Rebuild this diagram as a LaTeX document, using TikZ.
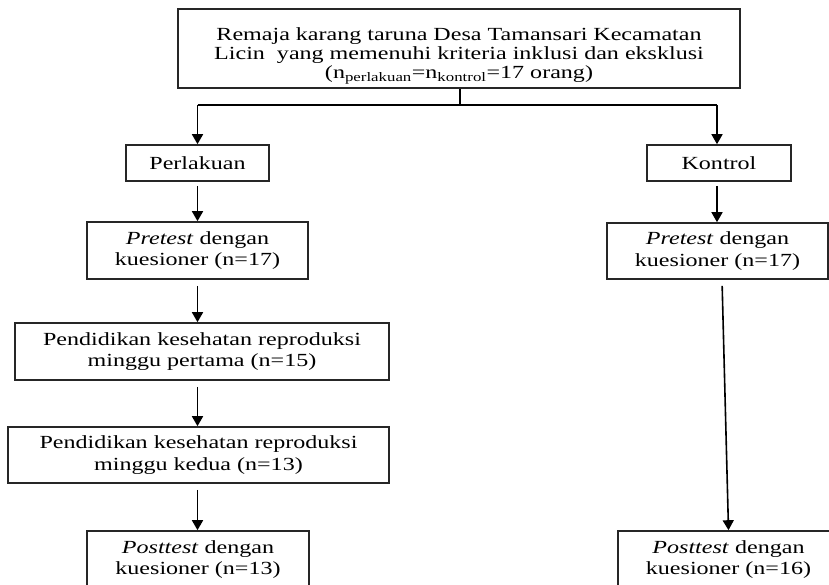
\documentclass[tikz,border=0pt]{standalone}
\usepackage{fontspec}
\setmainfont{Liberation Serif}[FakeStretch=1.3]
\usetikzlibrary{arrows.meta}
\begin{document}
\begin{tikzpicture}[x=1pt,y=-1pt,
  box/.style={draw=black!85, line width=1.6pt, inner sep=0pt, align=center,
    font=\fontsize{18.5}{21.5}\selectfont, text=black},
  conn/.style={draw=black, line width=1.6pt},
  arr/.style={conn, -{Triangle[width=11pt,length=10pt]}}]
\useasboundingbox (0,0) rectangle (829,585);
\clip (0,0) rectangle (829,585);
\fill[white] (0,0) rectangle (829,585);

\node[box, minimum width=562pt, minimum height=79pt, font=\fontsize{18.5}{18.5}\selectfont] (top) at (459,48.5)
  {\rule{0pt}{28pt}Remaja karang taruna Desa Tamansari Kecamatan\\ Licin\ \ yang memenuhi kriteria inklusi dan eksklusi\\[1pt]
   (n\textsubscript{perlakuan}=n\textsubscript{kontrol}=17 orang)};

\node[box, minimum width=143pt, minimum height=36pt] (perl) at (197.5,163) {Perlakuan};
\node[box, minimum width=144pt, minimum height=36pt] (kon) at (719,163) {Kontrol};

\node[box, minimum width=221pt, minimum height=57pt] (preL) at (197.5,250.5) {\textit{Pretest} dengan\\ kuesioner (n=17)};
\node[box, minimum width=221pt, minimum height=56pt] (preR) at (717.5,251) {\textit{Pretest} dengan\\ kuesioner (n=17)};

\node[box, minimum width=374pt, minimum height=57pt] (pend1) at (202,351.5) {Pendidikan kesehatan reproduksi\\ minggu pertama (n=15)};
\node[box, minimum width=381pt, minimum height=56pt] (pend2) at (198.5,455) {Pendidikan kesehatan reproduksi\\ minggu kedua (n=13)};

\node[box, minimum width=222pt, minimum height=57pt] (postL) at (198,559.5) {\textit{Posttest} dengan\\ kuesioner (n=13)};
\node[box, minimum width=221pt, minimum height=57pt] (postR) at (728.5,559.5) {\textit{Posttest} dengan\\ kuesioner (n=16)};

\coordinate (jM) at (460,105);
\coordinate (jL) at (197.5,105);
\coordinate (jR) at (717,105);

\draw[conn] (top.south -| jM) -- (jM);
\draw[conn] (jL) -- (jR);
\draw[arr] (jL) -- (jL |- perl.north);
\draw[arr] (jR) -- (jR |- kon.north);
\draw[arr, shorten <=4pt] (perl.south) -- (preL.north);
\draw[arr, shorten <=4pt] (kon.south -| jR) -- (jR |- preR.north);
\draw[arr, shorten <=6pt] (preL.south) -- (preL.south |- pend1.north);
\draw[arr, shorten <=6pt] (preL.south |- pend1.south) -- (preL.south |- pend2.north);
\draw[arr, shorten <=6pt] (preL.south |- pend2.south) -- (preL.south |- postL.north);
\draw[arr, shorten <=6pt] ([xshift=4.5pt]preR.south) -- (postR.north);
\end{tikzpicture}
\end{document}
